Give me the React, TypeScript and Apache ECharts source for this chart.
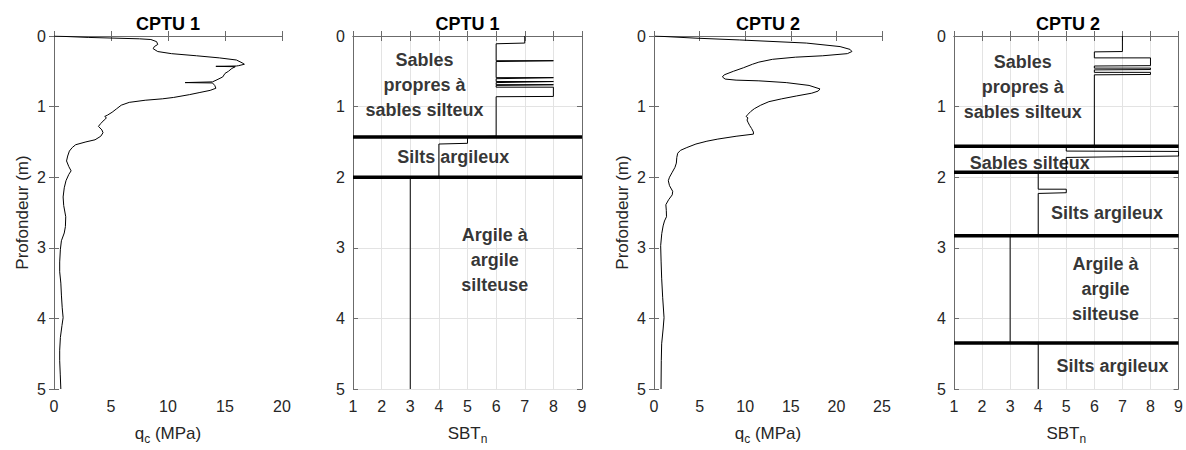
import React, { useEffect, useRef } from "react";
import * as echarts from "echarts";

// ---------- DATA ----------
const depthTicks = [0, 1, 2, 3, 4, 5];

// CPTU 1 cone resistance q_c (MPa) vs depth (m)
const cptu1Depth = [0, 0.02, 0.04, 0.05, 0.08, 0.12, 0.15, 0.18, 0.22, 0.25, 0.28, 0.31, 0.34, 0.38, 0.4, 0.42, 0.425, 0.43, 0.435, 0.46, 0.5, 0.53, 0.58, 0.62, 0.65, 0.655, 0.66, 0.665, 0.67, 0.7, 0.74, 0.77, 0.8, 0.83, 0.87, 0.89, 0.91, 0.94, 0.98, 1.03, 1.08, 1.12, 1.14, 1.16, 1.19, 1.24, 1.28, 1.33, 1.37, 1.42, 1.47, 1.5, 1.54, 1.58, 1.63, 1.7, 1.77, 1.85, 1.91, 1.96, 2.05, 2.15, 2.28, 2.4, 2.56, 2.7, 2.79, 2.9, 3.02, 3.2, 3.34, 3.5, 3.67, 3.85, 3.99, 4.1, 4.27, 4.45, 4.6, 4.8, 5.0];
const cptu1Qc = [0, 3, 7.5, 8.5, 9.0, 9.1, 8.8, 8.7, 9.1, 10.3, 12.5, 14.5, 16.0, 16.5, 16.7, 16.2, 16.0, 14.2, 15.9, 15.6, 15.3, 15.0, 14.8, 14.3, 13.9, 13.9, 11.5, 13.9, 13.9, 14.1, 14.2, 13.7, 12.8, 11.9, 10.5, 9.5, 8.0, 6.6, 5.9, 5.5, 5.1, 4.7, 4.45, 4.6, 4.4, 4.1, 3.9, 4.2, 4.3, 4.1, 3.6, 2.8, 1.9, 1.6, 1.35, 1.2, 1.1, 1.3, 1.5, 1.3, 1.05, 0.9, 0.8, 0.85, 1.03, 1.0, 0.9, 0.65, 0.56, 0.5, 0.5, 0.6, 0.65, 0.72, 0.8, 0.7, 0.56, 0.5, 0.5, 0.55, 0.6];

// CPTU 1 SBTn profile
const sbt1Depth = [0, 0.1, 0.11, 0.35, 0.35, 0.358, 0.362, 0.59, 0.59, 0.6, 0.605, 0.645, 0.645, 0.655, 0.66, 0.69, 0.69, 0.695, 0.7, 0.725, 0.725, 0.856, 0.86, 1.42, 1.43, 1.52, 1.53, 1.99, 2.0, 5.0];
const sbt1Value = [7, 7, 6, 6, 8, 8, 6, 6, 8, 8, 6, 6, 8, 8, 6, 6, 8, 8, 6, 6, 8, 8, 6, 6, 5, 5, 4, 4, 3, 3];
const cptu1Boundaries = [1.43, 2.0];

// CPTU 2 cone resistance
const cptu2Depth = [0, 0.03, 0.056, 0.1, 0.15, 0.19, 0.22, 0.25, 0.28, 0.3, 0.33, 0.37, 0.4, 0.45, 0.5, 0.55, 0.58, 0.61, 0.625, 0.635, 0.66, 0.7, 0.75, 0.78, 0.81, 0.85, 0.89, 0.93, 0.98, 1.03, 1.07, 1.11, 1.14, 1.16, 1.19, 1.22, 1.27, 1.31, 1.36, 1.39, 1.42, 1.46, 1.49, 1.53, 1.58, 1.62, 1.66, 1.72, 1.8, 1.86, 1.93, 2.0, 2.05, 2.12, 2.2, 2.25, 2.32, 2.39, 2.47, 2.56, 2.62, 2.69, 2.8, 2.97, 3.2, 3.43, 3.7, 3.99, 4.15, 4.36, 4.6, 5.0];
const cptu2Qc = [0.1, 4.5, 9.4, 16.7, 20.4, 21.5, 21.7, 21.2, 18.5, 15.5, 13.0, 11.5, 10.8, 9.8, 8.7, 7.7, 7.5, 7.8, 9.0, 11.5, 14.5, 17.0, 18.2, 18.0, 17.3, 15.6, 14.0, 12.6, 11.7, 11.0, 10.6, 10.3, 10.1, 10.3, 10.2, 10.3, 10.5, 10.7, 10.9, 10.9, 9.0, 7.0, 5.8, 4.6, 3.6, 2.9, 2.6, 2.5, 2.45, 2.3, 2.0, 1.7, 1.57, 1.7, 2.05, 2.0, 1.6, 1.3, 1.35, 1.37, 1.15, 1.0, 0.85, 0.73, 0.78, 0.84, 0.95, 1.1, 1.0, 0.84, 0.8, 0.77];

// CPTU 2 SBTn profile
const sbt2Depth = [0, 0.22, 0.225, 0.31, 0.31, 0.42, 0.425, 0.455, 0.455, 0.475, 0.48, 0.515, 0.515, 0.545, 0.55, 1.55, 1.56, 1.63, 1.635, 1.7, 1.72, 1.93, 1.94, 2.17, 2.17, 2.22, 2.23, 2.83, 2.84, 4.35, 4.36, 5.0];
const sbt2Value = [7, 7, 6, 6, 8, 8, 6, 6, 8, 8, 6, 6, 8, 8, 6, 6, 5, 5, 9, 9, 5, 5, 4, 4, 5, 5, 4, 4, 3, 3, 4, 4];
const cptu2Boundaries = [1.56, 1.93, 2.83, 4.35];

// Layer annotations [SBTn, depth, text]
const cptu1Labels: [number, number, string][] = [
  [3.5, 0.69, "Sables\npropres à\nsables silteux"],
  [4.5, 1.72, "Silts argileux"],
  [5.95, 3.17, "Argile à\nargile\nsilteuse"],
];
const cptu2Labels: [number, number, string][] = [
  [3.45, 0.72, "Sables\npropres à\nsables silteux"],
  [3.7, 1.8, "Sables silteux"],
  [6.45, 2.5, "Silts argileux"],
  [6.4, 3.58, "Argile à\nargile\nsilteuse"],
  [6.65, 4.67, "Silts argileux"],
];

const titles = ["CPTU 1", "CPTU 1", "CPTU 2", "CPTU 2"];

// ---------- CHART ----------
const FONT = '"Liberation Sans", Arial, Helvetica, sans-serif';
const AX = "#6b6b6b";
const TXT = "#262626";

const panels = [
  { left: 54, width: 228, min: 0, max: 20, interval: 5, grid: false, yName: true, xName: "qc" },
  { left: 353, width: 229, min: 1, max: 9, interval: 1, grid: true, yName: false, xName: "sbt" },
  { left: 654, width: 228, min: 0, max: 25, interval: 5, grid: false, yName: true, xName: "qc" },
  { left: 954, width: 228, min: 1, max: 9, interval: 1, grid: true, yName: false, xName: "sbt" },
];

const zip = (xs: number[], ys: number[]) => xs.map((x, i) => [x, ys[i]]);

function buildOption() {
  const grids: any[] = [];
  const xAxes: any[] = [];
  const yAxes: any[] = [];
  const series: any[] = [];
  const title: any[] = [];
  const tick = { inside: true, length: 5, lineStyle: { color: AX, width: 1 } };
  const line = { show: true, lineStyle: { color: AX, width: 1 } };

  panels.forEach((p, i) => {
    grids.push({ left: p.left, width: p.width, top: 36, height: 360, containLabel: false });
    title.push({
      text: titles[i],
      left: p.left + p.width / 2,
      top: 15,
      padding: 0,
      textAlign: "center",
      textStyle: { fontSize: 18, fontWeight: "bold", color: "#000", fontFamily: FONT },
    });
    const xName =
      p.xName === "qc" ? "{a|q}{b|c}{a| (MPa)}" : "{a|SBT}{b|n}";
    xAxes.push({
      gridIndex: i,
      type: "value",
      position: "bottom",
      min: p.min,
      max: p.max,
      interval: p.interval,
      axisLine: line,
      axisTick: tick,
      axisLabel: { fontSize: 16, color: TXT, margin: 9, fontFamily: FONT },
      splitLine: { show: p.grid, lineStyle: { color: "#e3e3e3", width: 1 } },
      name: xName,
      nameLocation: "middle",
      nameGap: 32,
      nameTextStyle: {
        fontFamily: FONT,
        rich: {
          a: { fontSize: 17, color: TXT, fontFamily: FONT },
          b: { fontSize: 12, color: TXT, fontFamily: FONT, padding: [12, 0, 0, 0] },
        },
      },
    });
    xAxes.push({
      gridIndex: i,
      type: "value",
      position: "top",
      min: p.min,
      max: p.max,
      interval: p.interval,
      axisLine: line,
      axisTick: tick,
      axisLabel: { show: false },
      splitLine: { show: false },
    });
    yAxes.push({
      gridIndex: i,
      type: "value",
      position: "left",
      inverse: true,
      min: depthTicks[0],
      max: depthTicks[depthTicks.length - 1],
      interval: 1,
      axisLine: line,
      axisTick: tick,
      axisLabel: { fontSize: 16, color: TXT, margin: 8, fontFamily: FONT },
      splitLine: { show: p.grid, lineStyle: { color: "#e3e3e3", width: 1 } },
      name: p.yName ? "Profondeur (m)" : "",
      nameLocation: "middle",
      nameGap: 23,
      nameTextStyle: { fontSize: 17, color: TXT, fontFamily: FONT },
    });
    yAxes.push({
      gridIndex: i,
      type: "value",
      position: "right",
      inverse: true,
      min: 0,
      max: 5,
      interval: 1,
      axisLine: line,
      axisTick: tick,
      axisLabel: { show: false },
      splitLine: { show: false },
    });
  });

  const curve = (data: number[][], i: number, width = 1) => ({
    type: "line",
    xAxisIndex: 2 * i,
    yAxisIndex: 2 * i,
    data,
    showSymbol: false,
    symbol: "none",
    silent: true,
    lineStyle: { color: "#000", width },
    z: 3,
  });

  series.push(curve(zip(cptu1Qc, cptu1Depth), 0));
  series.push(curve(zip(sbt1Value, sbt1Depth), 1));
  cptu1Boundaries.forEach((d) => series.push(curve([[1, d], [9, d]], 1, 3.5)));
  series.push(curve(zip(cptu2Qc, cptu2Depth), 2));
  series.push(curve(zip(sbt2Value, sbt2Depth), 3));
  cptu2Boundaries.forEach((d) => series.push(curve([[1, d], [9, d]], 3, 3.5)));

  const labelSeries = (labels: [number, number, string][], i: number) => ({
    type: "scatter",
    xAxisIndex: 2 * i,
    yAxisIndex: 2 * i,
    symbolSize: 1,
    silent: true,
    itemStyle: { color: "rgba(0,0,0,0)" },
    z: 10,
    data: labels.map(([x, y, t]) => ({ value: [x, y], name: t })),
    label: {
      show: true,
      position: "inside",
      formatter: (p: any) => p.name,
      fontSize: 18,
      fontWeight: "bold",
      color: "#000",
      lineHeight: 25,
      align: "center",
      verticalAlign: "middle",
      fontFamily: FONT,
    },
  });
  series.push(labelSeries(cptu1Labels, 1));
  series.push(labelSeries(cptu2Labels, 3));

  return {
    animation: false,
    backgroundColor: "#fff",
    textStyle: { fontFamily: FONT },
    title,
    grid: grids,
    xAxis: xAxes,
    yAxis: yAxes,
    series,
  };
}

export default function App() {
  const ref = useRef<HTMLDivElement>(null);
  useEffect(() => {
    if (!ref.current) return;
    const chart = echarts.init(ref.current, undefined, { renderer: "svg" });
    chart.setOption(buildOption() as any);
    return () => chart.dispose();
  }, []);
  return (
    <div
      ref={ref}
      style={{ position: "absolute", left: 0, top: 0, width: 1186, height: 450 }}
    />
  );
}
